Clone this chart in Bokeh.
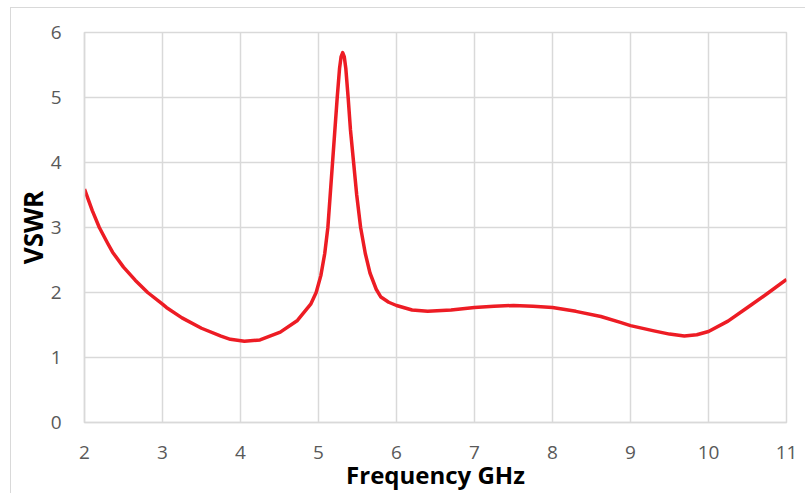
from bokeh.plotting import figure
from bokeh.embed import file_html
from bokeh.resources import INLINE
from bokeh.models import FixedTicker, Range1d

freq = [2.0, 2.1, 2.19, 2.3, 2.36, 2.5, 2.65, 2.81, 3.0, 3.05, 3.25, 3.5, 3.75, 3.87,
        4.05, 4.25, 4.51, 4.73, 4.9, 4.97, 5.03, 5.08, 5.12, 5.15, 5.18, 5.21, 5.24,
        5.27, 5.29, 5.31, 5.33, 5.35, 5.38, 5.41, 5.45, 5.49, 5.54, 5.6, 5.66, 5.74,
        5.8, 5.9, 6.0, 6.2, 6.4, 6.7, 7.0, 7.25, 7.5, 7.75, 8.0, 8.3, 8.62, 8.87,
        9.0, 9.3, 9.5, 9.69, 9.85, 10.0, 10.25, 10.5, 10.75, 11.0]
vswr = [3.59, 3.26, 3.0, 2.75, 2.62, 2.39, 2.19, 2.0, 1.82, 1.77, 1.61, 1.45, 1.33, 1.28,
        1.25, 1.27, 1.39, 1.57, 1.82, 2.0, 2.26, 2.6, 3.0, 3.5, 4.0, 4.5, 5.0,
        5.45, 5.63, 5.69, 5.63, 5.45, 5.0, 4.5, 4.0, 3.5, 3.0, 2.6, 2.3, 2.05,
        1.93, 1.85, 1.80, 1.73, 1.71, 1.73, 1.77, 1.79, 1.80, 1.79, 1.77, 1.71, 1.63, 1.54,
        1.49, 1.41, 1.36, 1.33, 1.35, 1.40, 1.56, 1.77, 1.98, 2.20]

x_ticks = [2, 3, 4, 5, 6, 7, 8, 9, 10, 11]
y_ticks = [0, 1, 2, 3, 4, 5, 6]

p = figure(width=794, height=485, output_backend="svg", toolbar_location=None,
           x_range=Range1d(2, 11), y_range=Range1d(0, 6),
           min_border_left=73, min_border_right=19, min_border_top=24, min_border_bottom=71)
p.margin = (8, 0, 0, 11)
p.styles = {"outline": "1.5px solid #d9d9d9"}
p.outline_line_color = "#d9d9d9"
p.outline_line_width = 1.5
p.background_fill_color = "white"
p.border_fill_color = "white"

p.line(freq, vswr, line_color="#ed1c24", line_width=3.5, line_join="round")

for ax in (p.xaxis[0], p.yaxis[0]):
    ax.axis_line_color = "#d9d9d9"
    ax.axis_line_width = 1.5
    ax.major_tick_line_color = None
    ax.minor_tick_line_color = None
    ax.major_label_text_font = "Open Sans"
    ax.major_label_text_font_size = "19px"
    ax.major_label_text_color = "#595959"
    ax.axis_label_text_font = "Open Sans"
    ax.axis_label_text_font_style = "bold"
    ax.axis_label_text_color = "#000000"

p.xaxis.ticker = FixedTicker(ticks=x_ticks)
p.yaxis.ticker = FixedTicker(ticks=y_ticks)
p.xaxis.axis_label = "Frequency GHz"
p.yaxis.axis_label = "VSWR"
p.xaxis.axis_label_text_font_size = "24px"
p.yaxis.axis_label_text_font_size = "26px"
p.xaxis.major_label_standoff = 17
p.yaxis.major_label_standoff = 17
p.xaxis.axis_label_standoff = -4
p.yaxis.axis_label_standoff = -3

p.xgrid.grid_line_color = "#d9d9d9"
p.ygrid.grid_line_color = "#d9d9d9"
p.xgrid.grid_line_width = 1.5
p.ygrid.grid_line_width = 1.5

open("out.html", "w").write(file_html(p, INLINE))
